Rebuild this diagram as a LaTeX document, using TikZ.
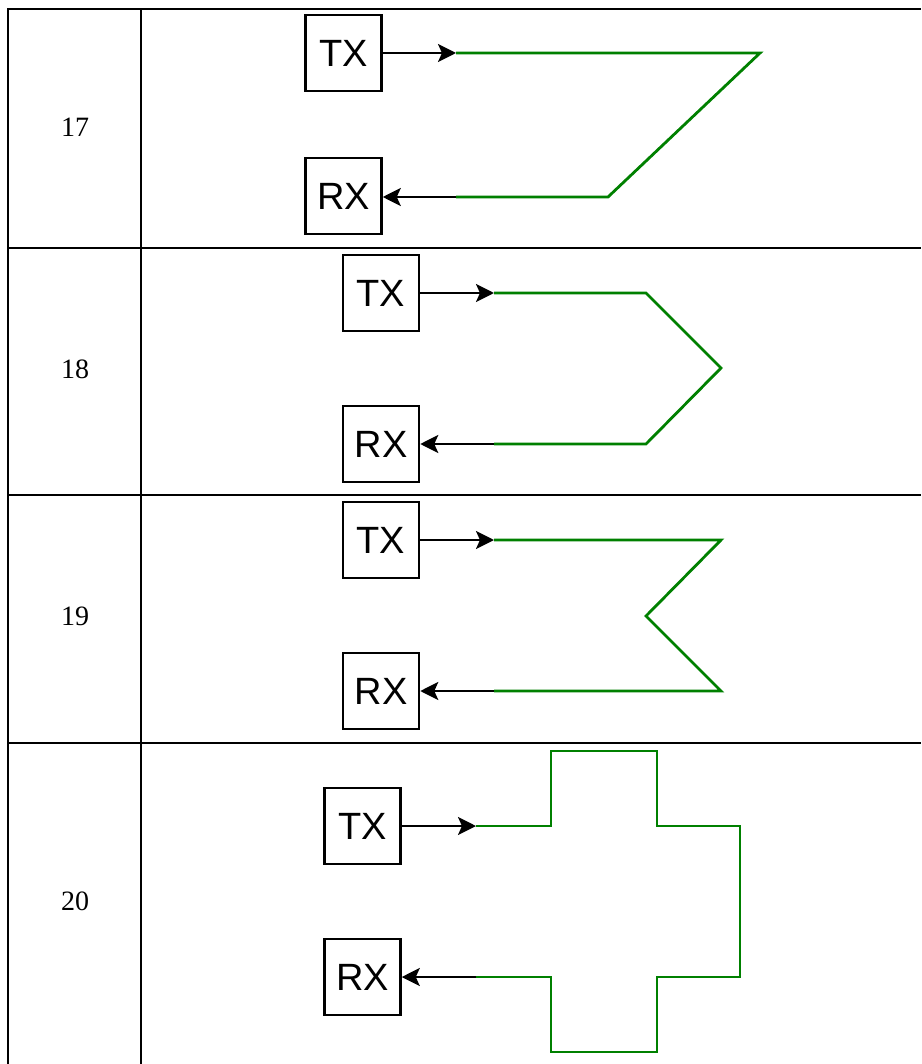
\documentclass[tikz,border=0pt]{standalone}
\usepackage{fontspec}
\setmainfont{Liberation Serif}
\newfontfamily\arialfont{Liberation Sans}
\usetikzlibrary{arrows.meta}
\definecolor{wire}{RGB}{0,128,0}
\tikzset{
  grid/.style={line width=2.2pt, black},
  unit/.style={draw, line width=2.5pt, minimum width=76pt, minimum height=76pt, inner sep=0pt, font=\arialfont\fontsize{38}{38}\selectfont},
  num/.style={font=\fontsize{28}{28}\selectfont, inner sep=0pt},
  arr/.style={line width=2.5pt, -{Stealth[length=18pt,width=18pt,inset=4pt]}},
  green/.style={draw=wire, line width=2.8pt, line join=miter},
}
\begin{document}
\begin{tikzpicture}[x=1pt,y=-1pt]
\useasboundingbox (0,0) rectangle (921,1064);
% table
\draw[grid] (8,1064) -- (8,9) -- (921,9);
\draw[grid] (141,9) -- (141,1064);
\draw[grid] (8,248) -- (921,248);
\draw[grid] (8,495) -- (921,495);
\draw[grid] (8,743) -- (921,743);
% numbers
\node[num] (n17) at (75,127) {17};
\node[num] (n18) at (75,369) {18};
\node[num] (n19) at (75,616) {19};
\node[num] (n20) at (75,901) {20};
% row 17
\node[unit] (tx17) at (343.5,53) {TX};
\node[unit] (rx17) at (343.5,196) {RX};
\coordinate (a17) at (456,53);
\coordinate (b17) at (456,197);
\draw[arr] (tx17) -- (a17);
\draw[arr] (b17) -- (rx17.east |- b17);
\draw[green] (a17) -- (760,53) -- (608,197) -- (b17);
% row 18
\node[unit] (tx18) at (381,293) {TX};
\node[unit] (rx18) at (381,444) {RX};
\coordinate (a18) at (494,293);
\coordinate (b18) at (494,444);
\draw[arr] (tx18) -- (a18);
\draw[arr] (b18) -- (rx18);
\draw[green] (a18) -- (646,293) -- (721,368) -- (646,444) -- (b18);
% row 19
\node[unit] (tx19) at (381,540) {TX};
\node[unit] (rx19) at (381,691) {RX};
\coordinate (a19) at (494,540);
\coordinate (b19) at (494,691);
\draw[arr] (tx19) -- (a19);
\draw[arr] (b19) -- (rx19);
\draw[green] (a19) -- (721,540) -- (646,616) -- (721,691) -- (b19);
% row 20
\node[unit] (tx20) at (362.5,826) {TX};
\node[unit] (rx20) at (362.5,977) {RX};
\coordinate (a20) at (476,826);
\coordinate (b20) at (476,977);
\draw[arr] (tx20) -- (a20);
\draw[arr] (b20) -- (rx20);
\draw[green] (a20) -- (551,826) -- (551,751) -- (657,751) -- (657,826) -- (740,826) -- (740,977) -- (657,977) -- (657,1052) -- (551,1052) -- (551,977) -- (b20);
\end{tikzpicture}
\end{document}
